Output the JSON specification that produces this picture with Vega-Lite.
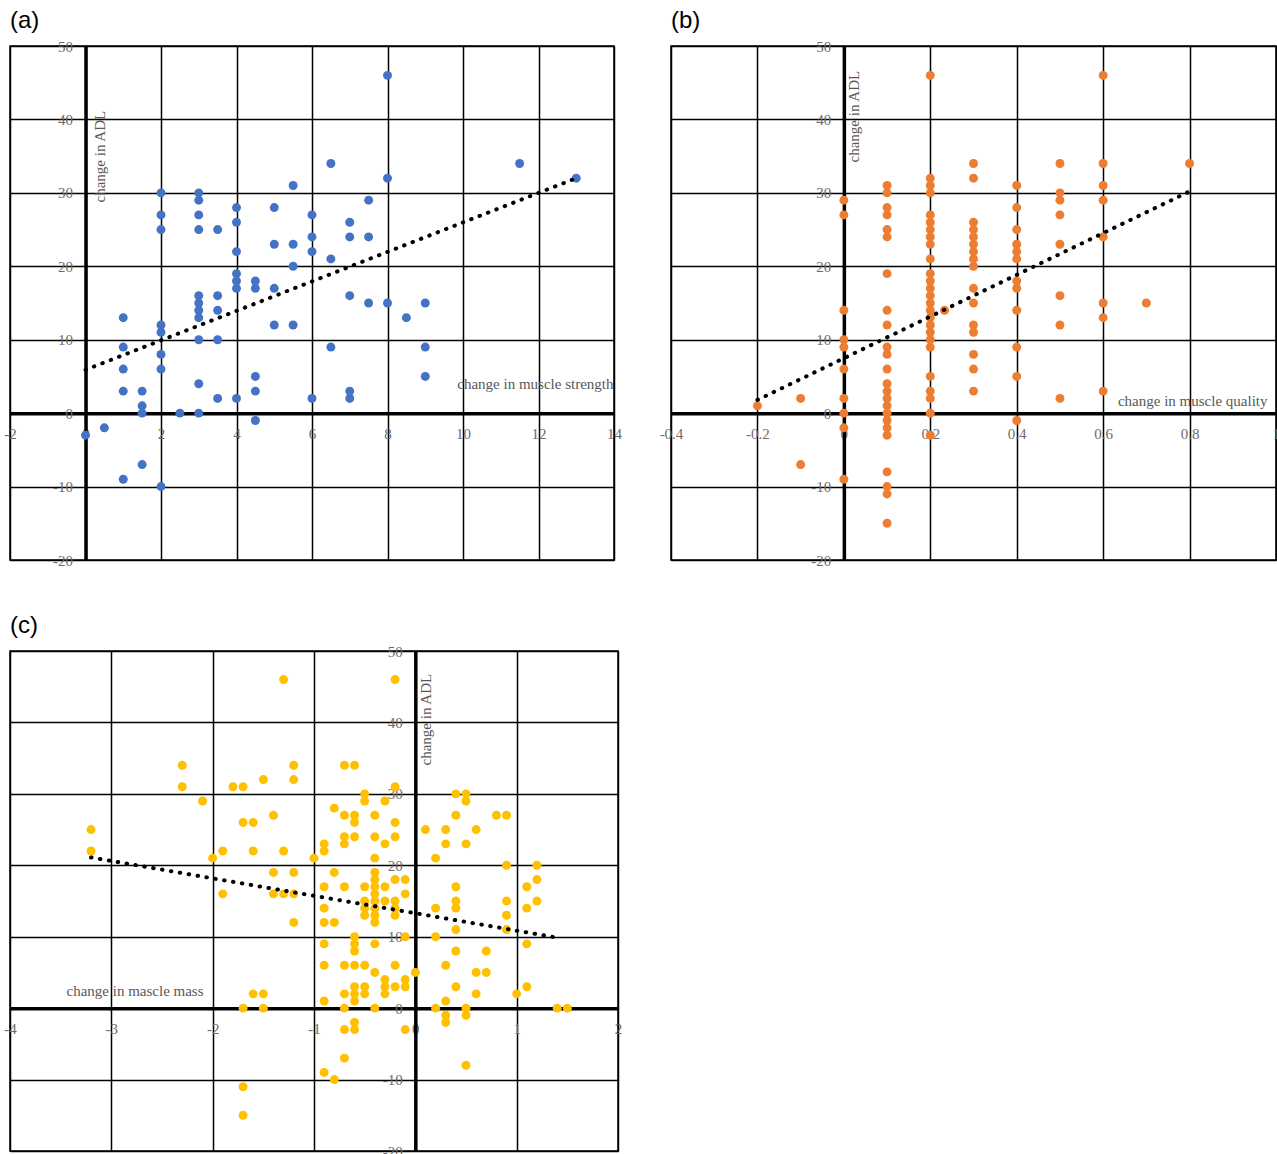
{
  "$schema": "https://vega.github.io/schema/vega-lite/v6.json",
  "autosize": {"type": "pad"},
  "padding": {"left": 3, "top": 8, "right": 0, "bottom": 0},
  "background": "white",
  "config": {
    "view": {"stroke": "black", "strokeWidth": 1.5},
    "axis": {
      "grid": true, "gridColor": "black", "gridWidth": 1.5, "gridOpacity": 1,
      "ticks": false, "domain": true, "domainColor": "black", "domainWidth": 3.5,
      "labelFont": "Liberation Serif", "labelFontSize": 15, "labelColor": "#6b6b6b",
      "labelPadding": 13, "labelFlush": false, "labelOverlap": false, "labelBound": false,
      "labelExpr": "'' + datum.value",
      "titleFont": "Liberation Serif", "titleFontSize": 15, "titleFontWeight": "normal", "titleColor": "#595959",
      "titleBaseline": "alphabetic"
    },
    "axisX": {"labelAngle": 0},
    "title": {"font": "Liberation Sans", "fontSize": 24, "fontWeight": "normal", "color": "black", "anchor": "start", "frame": "group", "offset": 6}
  },
  "datasets": {
    "a": [
      {"x":0,"y":-3},{"x":0.5,"y":-2},
      {"x":1,"y":13},{"x":1,"y":9},{"x":1,"y":6},{"x":1,"y":3},{"x":1,"y":-9},
      {"x":1.5,"y":3},{"x":1.5,"y":1},{"x":1.5,"y":0},{"x":1.5,"y":-7},
      {"x":2,"y":30},{"x":2,"y":27},{"x":2,"y":25},{"x":2,"y":12},{"x":2,"y":11},{"x":2,"y":8},{"x":2,"y":6},{"x":2,"y":-10},
      {"x":2.5,"y":0},
      {"x":3,"y":30},{"x":3,"y":29},{"x":3,"y":27},{"x":3,"y":25},{"x":3,"y":16},{"x":3,"y":15},{"x":3,"y":14},{"x":3,"y":13},{"x":3,"y":10},{"x":3,"y":4},{"x":3,"y":0},
      {"x":3.5,"y":25},{"x":3.5,"y":16},{"x":3.5,"y":14},{"x":3.5,"y":10},{"x":3.5,"y":2},
      {"x":4,"y":28},{"x":4,"y":26},{"x":4,"y":22},{"x":4,"y":19},{"x":4,"y":18},{"x":4,"y":17},{"x":4,"y":2},
      {"x":4.5,"y":18},{"x":4.5,"y":17},{"x":4.5,"y":5},{"x":4.5,"y":3},{"x":4.5,"y":-1},
      {"x":5,"y":28},{"x":5,"y":23},{"x":5,"y":17},{"x":5,"y":12},
      {"x":5.5,"y":31},{"x":5.5,"y":23},{"x":5.5,"y":20},{"x":5.5,"y":12},
      {"x":6,"y":27},{"x":6,"y":24},{"x":6,"y":22},{"x":6,"y":2},
      {"x":6.5,"y":34},{"x":6.5,"y":21},{"x":6.5,"y":9},
      {"x":7,"y":26},{"x":7,"y":24},{"x":7,"y":16},{"x":7,"y":3},{"x":7,"y":2},
      {"x":7.5,"y":29},{"x":7.5,"y":24},{"x":7.5,"y":15},
      {"x":8,"y":46},{"x":8,"y":32},{"x":8,"y":15},
      {"x":8.5,"y":13},
      {"x":9,"y":15},{"x":9,"y":9},{"x":9,"y":5},
      {"x":11.5,"y":34},{"x":13,"y":32}
    ],
    "b": [
      {"x":-0.2,"y":1},{"x":-0.1,"y":2},{"x":-0.1,"y":-7},
      {"x":0,"y":29},{"x":0,"y":27},{"x":0,"y":14},{"x":0,"y":10},{"x":0,"y":9},{"x":0,"y":6},{"x":0,"y":2},{"x":0,"y":0},{"x":0,"y":-2},{"x":0,"y":-9},
      {"x":0.1,"y":31},{"x":0.1,"y":30},{"x":0.1,"y":28},{"x":0.1,"y":27},{"x":0.1,"y":25},{"x":0.1,"y":24},{"x":0.1,"y":19},{"x":0.1,"y":14},{"x":0.1,"y":12},{"x":0.1,"y":9},{"x":0.1,"y":8},{"x":0.1,"y":6},{"x":0.1,"y":4},{"x":0.1,"y":3},{"x":0.1,"y":2},{"x":0.1,"y":1},{"x":0.1,"y":0},{"x":0.1,"y":-1},{"x":0.1,"y":-2},{"x":0.1,"y":-3},{"x":0.1,"y":-8},{"x":0.1,"y":-10},{"x":0.1,"y":-11},{"x":0.1,"y":-15},
      {"x":0.2,"y":46},{"x":0.2,"y":32},{"x":0.2,"y":31},{"x":0.2,"y":30},{"x":0.2,"y":27},{"x":0.2,"y":26},{"x":0.2,"y":25},{"x":0.2,"y":24},{"x":0.2,"y":23},{"x":0.2,"y":21},{"x":0.2,"y":19},{"x":0.2,"y":18},{"x":0.2,"y":17},{"x":0.2,"y":16},{"x":0.2,"y":15},{"x":0.2,"y":14},{"x":0.2,"y":13},{"x":0.2,"y":12},{"x":0.2,"y":11},{"x":0.2,"y":10},{"x":0.2,"y":9},{"x":0.2,"y":5},{"x":0.2,"y":3},{"x":0.2,"y":2},{"x":0.2,"y":0},{"x":0.2,"y":-3},
      {"x":0.233,"y":14},
      {"x":0.3,"y":34},{"x":0.3,"y":32},{"x":0.3,"y":26},{"x":0.3,"y":25},{"x":0.3,"y":24},{"x":0.3,"y":23},{"x":0.3,"y":22},{"x":0.3,"y":21},{"x":0.3,"y":20},{"x":0.3,"y":17},{"x":0.3,"y":15},{"x":0.3,"y":12},{"x":0.3,"y":11},{"x":0.3,"y":8},{"x":0.3,"y":6},{"x":0.3,"y":3},
      {"x":0.4,"y":31},{"x":0.4,"y":28},{"x":0.4,"y":25},{"x":0.4,"y":23},{"x":0.4,"y":22},{"x":0.4,"y":21},{"x":0.4,"y":18},{"x":0.4,"y":17},{"x":0.4,"y":14},{"x":0.4,"y":9},{"x":0.4,"y":5},{"x":0.4,"y":-1},
      {"x":0.5,"y":34},{"x":0.5,"y":30},{"x":0.5,"y":29},{"x":0.5,"y":27},{"x":0.5,"y":23},{"x":0.5,"y":16},{"x":0.5,"y":12},{"x":0.5,"y":2},
      {"x":0.6,"y":46},{"x":0.6,"y":34},{"x":0.6,"y":31},{"x":0.6,"y":29},{"x":0.6,"y":24},{"x":0.6,"y":15},{"x":0.6,"y":13},{"x":0.6,"y":3},
      {"x":0.7,"y":15},{"x":0.8,"y":34}
    ],
    "c": [
      {"x":-3.2,"y":25},{"x":-3.2,"y":22},{"x":-2.3,"y":34},{"x":-2.3,"y":31},{"x":-2.1,"y":29},{"x":-2.0,"y":21},{"x":-1.9,"y":22},{"x":-1.9,"y":16},{"x":-1.8,"y":31},{"x":-1.7,"y":31},{"x":-1.7,"y":26},{"x":-1.6,"y":26},{"x":-1.6,"y":22},{"x":-1.5,"y":32},{"x":-1.4,"y":27},{"x":-1.4,"y":19},{"x":-1.4,"y":16},{"x":-1.3,"y":46},{"x":-1.3,"y":22},{"x":-1.3,"y":16},{"x":-1.2,"y":34},{"x":-1.2,"y":32},{"x":-1.2,"y":19},{"x":-1.2,"y":16},{"x":-1.2,"y":12},{"x":-1.0,"y":21},{"x":-1.6,"y":2},{"x":-1.5,"y":2},{"x":-1.7,"y":0},{"x":-1.5,"y":0},{"x":-1.7,"y":-11},{"x":-1.7,"y":-15},
      {"x":-0.2,"y":46},{"x":-0.7,"y":34},{"x":-0.6,"y":34},{"x":-0.2,"y":31},{"x":-0.5,"y":30},{"x":-0.5,"y":29},{"x":-0.3,"y":29},{"x":-0.8,"y":28},{"x":-0.7,"y":27},{"x":-0.6,"y":27},{"x":-0.4,"y":27},{"x":-0.6,"y":26},{"x":-0.2,"y":26},{"x":-0.7,"y":24},{"x":-0.6,"y":24},{"x":-0.4,"y":24},{"x":-0.2,"y":24},{"x":-0.9,"y":23},{"x":-0.7,"y":23},{"x":-0.3,"y":23},{"x":-0.9,"y":22},{"x":-0.4,"y":21},{"x":-0.8,"y":19},{"x":-0.4,"y":19},{"x":-0.4,"y":18},{"x":-0.2,"y":18},{"x":-0.1,"y":18},{"x":-0.9,"y":17},{"x":-0.7,"y":17},{"x":-0.5,"y":17},{"x":-0.4,"y":17},{"x":-0.3,"y":17},
      {"x":0.1,"y":25},{"x":0.3,"y":25},{"x":0.4,"y":30},{"x":0.5,"y":30},{"x":0.5,"y":29},{"x":0.4,"y":27},{"x":0.6,"y":25},{"x":0.3,"y":23},{"x":0.5,"y":23},{"x":0.2,"y":21},{"x":0.8,"y":27},{"x":0.9,"y":27},{"x":0.9,"y":20},{"x":1.2,"y":20},{"x":1.2,"y":18},{"x":1.1,"y":17},{"x":0.4,"y":17},
      {"x":-0.1,"y":16},{"x":-0.4,"y":16},
      {"x":-0.5,"y":15},{"x":-0.4,"y":15},{"x":-0.3,"y":15},{"x":-0.2,"y":15},{"x":0.4,"y":15},{"x":0.9,"y":15},{"x":1.2,"y":15},
      {"x":-0.9,"y":14},{"x":-0.5,"y":14},{"x":-0.4,"y":14},{"x":-0.2,"y":14},{"x":0.2,"y":14},{"x":0.4,"y":14},{"x":1.1,"y":14},
      {"x":-0.5,"y":13},{"x":-0.4,"y":13},{"x":-0.2,"y":13},{"x":0.9,"y":13},
      {"x":-0.9,"y":12},{"x":-0.8,"y":12},{"x":-0.4,"y":12},
      {"x":0.4,"y":11},{"x":0.9,"y":11},
      {"x":-0.6,"y":10},{"x":-0.1,"y":10},{"x":0.2,"y":10},
      {"x":-0.9,"y":9},{"x":-0.6,"y":9},{"x":-0.4,"y":9},{"x":1.1,"y":9},
      {"x":-0.6,"y":8},{"x":0.4,"y":8},{"x":0.7,"y":8},
      {"x":-0.9,"y":6},{"x":-0.7,"y":6},{"x":-0.6,"y":6},{"x":-0.5,"y":6},{"x":-0.2,"y":6},{"x":0.3,"y":6},
      {"x":-0.4,"y":5},{"x":0.0,"y":5},{"x":0.6,"y":5},{"x":0.7,"y":5},
      {"x":-0.3,"y":4},{"x":-0.1,"y":4},
      {"x":-0.6,"y":3},{"x":-0.5,"y":3},{"x":-0.3,"y":3},{"x":-0.2,"y":3},{"x":-0.1,"y":3},{"x":0.4,"y":3},{"x":1.1,"y":3},
      {"x":-0.7,"y":2},{"x":-0.6,"y":2},{"x":-0.5,"y":2},{"x":-0.3,"y":2},{"x":0.6,"y":2},{"x":1.0,"y":2},
      {"x":-0.9,"y":1},{"x":-0.6,"y":1},{"x":0.3,"y":1},
      {"x":-0.7,"y":0},{"x":-0.4,"y":0},{"x":0.2,"y":0},{"x":0.5,"y":0},{"x":1.4,"y":0},{"x":1.5,"y":0},
      {"x":0.3,"y":-1},{"x":0.5,"y":-1},
      {"x":-0.6,"y":-2},{"x":0.3,"y":-2},
      {"x":-0.7,"y":-3},{"x":-0.6,"y":-3},{"x":-0.1,"y":-3},
      {"x":-0.7,"y":-7},{"x":0.5,"y":-8},{"x":-0.9,"y":-9},{"x":-0.8,"y":-10}
    ],
    "ta": [{"x":0,"y":5.9},{"x":13,"y":32}],
    "tb": [{"x":-0.2,"y":1.8},{"x":0.8,"y":30.2}],
    "tc": [{"x":-3.2,"y":21.1},{"x":1.43,"y":9.8}]
  },
  "columns": 2,
  "spacing": {"column": 53, "row": 91},
  "bounds": "flush",
  "concat": [
    {
      "title": {"text": "(a)"},
      "width": 604, "height": 514,
      "layer": [
        {
          "data": {"name": "a"},
          "mark": {"type": "circle", "size": 80, "opacity": 1, "color": "#4472C4"},
          "encoding": {
            "x": {"field": "x", "type": "quantitative",
              "scale": {"domain": [-2, 14], "nice": false, "zero": false},
              "axis": {"values": [-2,0,2,4,6,8,10,12,14], "offset": -146.86,
                "title": "change in muscle strength", "titleX": 603, "titleY": -24.6, "titleAlign": "right", "titleAnchor": null, "titleAngle": 0}},
            "y": {"field": "y", "type": "quantitative",
              "scale": {"domain": [-20, 50], "nice": false, "zero": false},
              "axis": {"values": [-20,-10,0,10,20,30,40,50], "offset": -75.5,
                "title": "change in ADL", "titleX": 19, "titleY": 156, "titleAlign": "left", "titleAngle": 270, "titleAnchor": null}}
          }
        },
        {
          "data": {"name": "ta"},
          "mark": {"type": "line", "color": "black", "strokeWidth": 4, "strokeDash": [0.5, 8.5], "strokeCap": "round"},
          "encoding": {
            "x": {"field": "x", "type": "quantitative"},
            "y": {"field": "y", "type": "quantitative"}
          }
        }
      ]
    },
    {
      "title": {"text": "(b)"},
      "width": 605, "height": 514,
      "layer": [
        {
          "data": {"name": "b"},
          "mark": {"type": "circle", "size": 80, "opacity": 1, "color": "#ED7D31"},
          "encoding": {
            "x": {"field": "x", "type": "quantitative",
              "scale": {"domain": [-0.4, 1.0], "nice": false, "zero": false},
              "axis": {"values": [-0.4,-0.2,0,0.2,0.4,0.6,0.8,1], "offset": -146.86,
                "title": "change in muscle quality", "titleX": 596, "titleY": -8, "titleAlign": "right", "titleAnchor": null, "titleAngle": 0}},
            "y": {"field": "y", "type": "quantitative",
              "scale": {"domain": [-20, 50], "nice": false, "zero": false},
              "axis": {"values": [-20,-10,0,10,20,30,40,50], "offset": -172.86,
                "title": "change in ADL", "titleX": 15, "titleY": 116, "titleAlign": "left", "titleAngle": 270, "titleAnchor": null}}
          }
        },
        {
          "data": {"name": "tb"},
          "mark": {"type": "line", "color": "black", "strokeWidth": 4, "strokeDash": [0.5, 8.5], "strokeCap": "round"},
          "encoding": {
            "x": {"field": "x", "type": "quantitative"},
            "y": {"field": "y", "type": "quantitative"}
          }
        }
      ]
    },
    {
      "title": {"text": "(c)"},
      "width": 608, "height": 500,
      "layer": [
        {
          "data": {"name": "c"},
          "mark": {"type": "circle", "size": 80, "opacity": 1, "color": "#FFC000"},
          "encoding": {
            "x": {"field": "x", "type": "quantitative",
              "scale": {"domain": [-4, 2], "nice": false, "zero": false},
              "axis": {"values": [-4,-3,-2,-1,0,1,2], "offset": -142.86,
                "title": "change in mascle mass", "titleX": 56, "titleY": -13, "titleAlign": "left", "titleAnchor": null, "titleAngle": 0}},
            "y": {"field": "y", "type": "quantitative",
              "scale": {"domain": [-20, 50], "nice": false, "zero": false},
              "axis": {"values": [-20,-10,0,10,20,30,40,50], "offset": -405.33,
                "title": "change in ADL", "titleX": 15, "titleY": 114, "titleAlign": "left", "titleAngle": 270, "titleAnchor": null}}
          }
        },
        {
          "data": {"name": "tc"},
          "mark": {"type": "line", "color": "black", "strokeWidth": 4, "strokeDash": [0.5, 8.5], "strokeCap": "round"},
          "encoding": {
            "x": {"field": "x", "type": "quantitative"},
            "y": {"field": "y", "type": "quantitative"}
          }
        }
      ]
    }
  ]
}
